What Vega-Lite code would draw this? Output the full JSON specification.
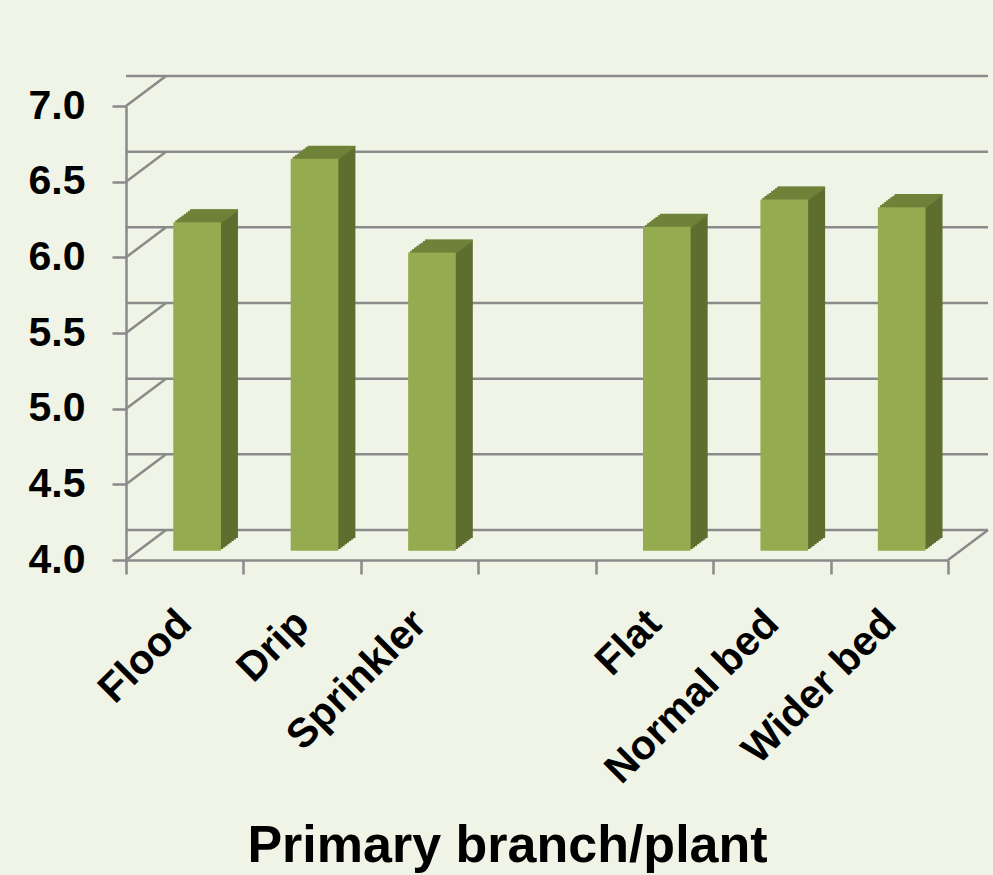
{
  "$schema": "https://vega.github.io/schema/vega-lite/v6.json",
  "width": 822,
  "height": 454,
  "autosize": "none",
  "padding": {"left": 126, "top": 106, "right": 45, "bottom": 315},
  "background": "#F0F4E6",
  "config": {"view": {"stroke": null}, "font": "Liberation Sans"},
  "datasets": {
    "branches": [
      {"treatment": "Flood", "branches": 6.17},
      {"treatment": "Drip", "branches": 6.59},
      {"treatment": "Sprinkler", "branches": 5.97},
      {"treatment": "Flat", "branches": 6.14},
      {"treatment": "Normal bed", "branches": 6.32},
      {"treatment": "Wider bed", "branches": 6.27}
    ],
    "levels": [
      {"level": 4.0}, {"level": 4.5}, {"level": 5.0}, {"level": 5.5},
      {"level": 6.0}, {"level": 6.5}, {"level": 7.0}
    ]
  },
  "layer": [
    {
      "data": {"name": "levels"},
      "mark": {"type": "rule", "color": "#8A8A8A", "strokeWidth": 2.5, "xOffset": 40, "x2Offset": 40, "yOffset": -30},
      "encoding": {
        "y": {
          "field": "level",
          "type": "quantitative",
          "scale": {"domain": [4, 7], "zero": false, "nice": false},
          "axis": {
            "title": null,
            "values": [4, 4.5, 5, 5.5, 6, 6.5, 7],
            "format": ".1f",
            "grid": false,
            "labelFont": "Liberation Sans",
            "labelFontSize": 41,
            "labelFontWeight": "bold",
            "labelColor": "#000000",
            "labelPadding": 27,
            "labelOverlap": false,
            "labelBound": false,
            "labelFlush": false,
            "tickSize": 14,
            "tickWidth": 2.5,
            "tickColor": "#8A8A8A",
            "domainColor": "#8A8A8A",
            "domainWidth": 2.5
          }
        }
      }
    },
    {
      "data": {"name": "levels"},
      "mark": {"type": "rule", "color": "#8A8A8A", "strokeWidth": 2.5, "x2Offset": 40, "y2Offset": -30},
      "encoding": {
        "x": {"value": 0},
        "x2": {"value": 0},
        "y": {"field": "level", "type": "quantitative"},
        "y2": {"field": "level"}
      }
    },
    {
      "data": {"name": "levels"},
      "transform": [{"filter": "datum.level == 4"}],
      "mark": {"type": "rule", "color": "#8A8A8A", "strokeWidth": 2.5, "x2Offset": 40, "y2Offset": -30},
      "encoding": {
        "x": {"value": {"expr": "width"}},
        "x2": {"value": {"expr": "width"}},
        "y": {"field": "level", "type": "quantitative"},
        "y2": {"field": "level"}
      }
    },
    {
      "data": {"name": "branches"},
      "encoding": {
        "x": {
          "field": "treatment",
          "type": "nominal",
          "sort": null,
          "scale": {"domain": ["Flood", "Drip", "Sprinkler", " ", "Flat", "Normal bed", "Wider bed"], "paddingInner": 0, "paddingOuter": 0},
          "axis": {
            "title": "Primary branch/plant",
            "labelAngle": -45,
            "labelAlign": "right",
            "labelBaseline": "middle",
            "labelFont": "Liberation Sans",
            "labelFontSize": 41,
            "labelFontWeight": "bold",
            "labelColor": "#000000",
            "labelPadding": 43,
            "labelLimit": 0,
            "labelOverlap": false,
            "tickBand": "extent",
            "tickSize": 14,
            "tickWidth": 2.5,
            "tickColor": "#8A8A8A",
            "domainColor": "#8A8A8A",
            "domainWidth": 2.5,
            "titleFont": "Liberation Sans",
            "titleFontSize": 52,
            "titleFontWeight": "bold",
            "titleColor": "#000000",
            "titleX": 381,
            "titleY": 301,
            "titleAlign": "center",
            "titleBaseline": "alphabetic"
          }
        },
        "y": {"field": "branches", "type": "quantitative"}
      },
      "layer": [
        {
          "encoding": {"y2": {"datum": 4}},
          "layer": [
            {"mark": {"type": "bar", "color": "#5E6E2F", "width": {"band": 0.406}, "xOffset": 29.4, "yOffset": -22.1, "y2Offset": -22.1}},
            {"mark": {"type": "bar", "color": "#5E6E2F", "width": {"band": 0.406}, "xOffset": 27.275, "yOffset": -20.5, "y2Offset": -20.5}},
            {"mark": {"type": "bar", "color": "#5E6E2F", "width": {"band": 0.406}, "xOffset": 25.15, "yOffset": -18.9, "y2Offset": -18.9}},
            {"mark": {"type": "bar", "color": "#5E6E2F", "width": {"band": 0.406}, "xOffset": 23.025, "yOffset": -17.3, "y2Offset": -17.3}},
            {"mark": {"type": "bar", "color": "#5E6E2F", "width": {"band": 0.406}, "xOffset": 20.9, "yOffset": -15.7, "y2Offset": -15.7}},
            {"mark": {"type": "bar", "color": "#5E6E2F", "width": {"band": 0.406}, "xOffset": 18.775, "yOffset": -14.1, "y2Offset": -14.1}},
            {"mark": {"type": "bar", "color": "#5E6E2F", "width": {"band": 0.406}, "xOffset": 16.65, "yOffset": -12.5, "y2Offset": -12.5}},
            {"mark": {"type": "bar", "color": "#5E6E2F", "width": {"band": 0.406}, "xOffset": 14.525, "yOffset": -10.9, "y2Offset": -10.9}}
          ]
        },
        {"mark": {"type": "tick", "color": "#6F8239", "opacity": 1, "size": 47.7, "thickness": 2.2, "xOffset": 29.4, "yOffset": -21.3}},
        {"mark": {"type": "tick", "color": "#6F8239", "opacity": 1, "size": 47.7, "thickness": 2.2, "xOffset": 27.275, "yOffset": -19.7}},
        {"mark": {"type": "tick", "color": "#6F8239", "opacity": 1, "size": 47.7, "thickness": 2.2, "xOffset": 25.15, "yOffset": -18.1}},
        {"mark": {"type": "tick", "color": "#6F8239", "opacity": 1, "size": 47.7, "thickness": 2.2, "xOffset": 23.025, "yOffset": -16.5}},
        {"mark": {"type": "tick", "color": "#6F8239", "opacity": 1, "size": 47.7, "thickness": 2.2, "xOffset": 20.9, "yOffset": -14.9}},
        {"mark": {"type": "tick", "color": "#6F8239", "opacity": 1, "size": 47.7, "thickness": 2.2, "xOffset": 18.775, "yOffset": -13.3}},
        {"mark": {"type": "tick", "color": "#6F8239", "opacity": 1, "size": 47.7, "thickness": 2.2, "xOffset": 16.65, "yOffset": -11.7}},
        {"mark": {"type": "tick", "color": "#6F8239", "opacity": 1, "size": 47.7, "thickness": 2.2, "xOffset": 14.525, "yOffset": -10.1}},
        {
          "encoding": {"y2": {"datum": 4}},
          "mark": {"type": "bar", "color": "#94AB4F", "width": {"band": 0.406}, "xOffset": 12.4, "yOffset": -9.3, "y2Offset": -9.3}
        }
      ]
    }
  ]
}
